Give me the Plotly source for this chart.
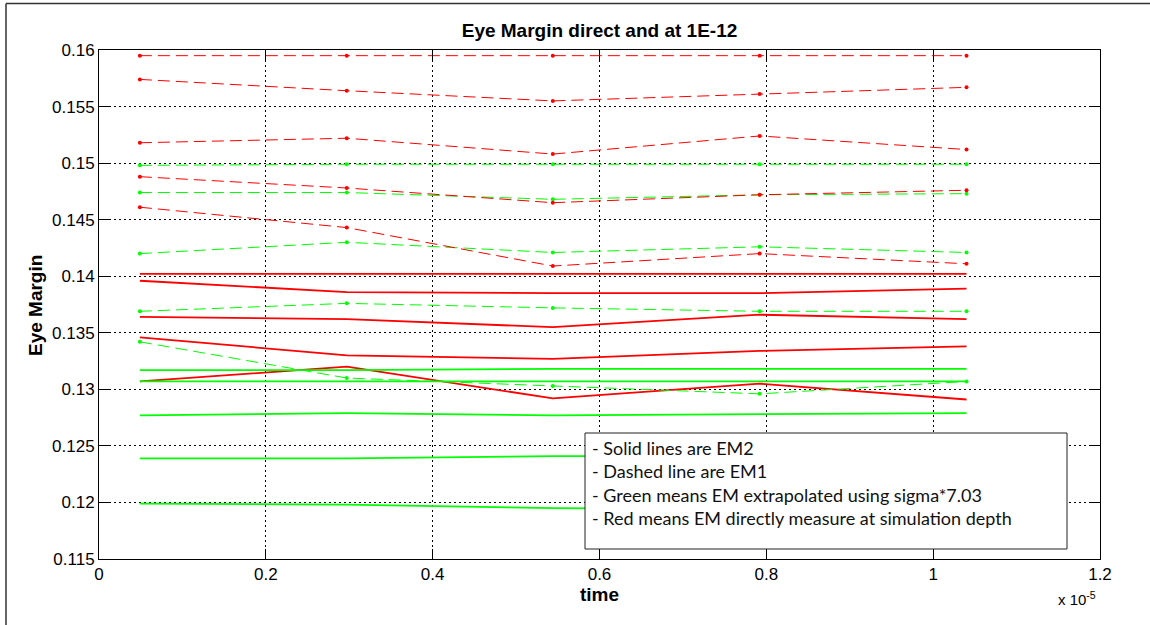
import plotly.graph_objects as go

# Sample times (seconds) and eye-margin curves
time = [0.049e-5, 0.297e-5, 0.544e-5, 0.792e-5, 1.040e-5]

# EM1 (dashed) measured directly at simulation depth
em1_direct_a = [0.1595, 0.1595, 0.1595, 0.1595, 0.1595]
em1_direct_b = [0.1574, 0.1564, 0.1555, 0.1561, 0.1567]
em1_direct_c = [0.1518, 0.1522, 0.1508, 0.1524, 0.1512]
em1_direct_d = [0.1488, 0.1478, 0.1465, 0.1472, 0.1476]
em1_direct_e = [0.1461, 0.1443, 0.1409, 0.1420, 0.1411]

# EM1 (dashed) extrapolated using sigma*7.03
em1_extrap_a = [0.1498, 0.1499, 0.1499, 0.1499, 0.1499]
em1_extrap_b = [0.1474, 0.1474, 0.1468, 0.1472, 0.1473]
em1_extrap_c = [0.1420, 0.1430, 0.1421, 0.1426, 0.1421]
em1_extrap_d = [0.1369, 0.1376, 0.1372, 0.1369, 0.1369]
em1_extrap_e = [0.1342, 0.1310, 0.1303, 0.1296, 0.1307]

# EM2 (solid) measured directly
em2_direct_a = [0.1402, 0.1402, 0.1402, 0.1402, 0.1402]
em2_direct_b = [0.1396, 0.1386, 0.1385, 0.1385, 0.1389]
em2_direct_c = [0.1364, 0.1362, 0.1355, 0.1366, 0.1362]
em2_direct_d = [0.1346, 0.1330, 0.1327, 0.1334, 0.1338]
em2_direct_e = [0.1307, 0.1320, 0.1292, 0.1305, 0.1291]

# EM2 (solid) extrapolated
em2_extrap_a = [0.1317, 0.1317, 0.1318, 0.1318, 0.1318]
em2_extrap_b = [0.1307, 0.1307, 0.1307, 0.1307, 0.1307]
em2_extrap_c = [0.1277, 0.1279, 0.1277, 0.1278, 0.1279]
em2_extrap_d = [0.1239, 0.1239, 0.1241, 0.1241, 0.1241]
em2_extrap_e = [0.1199, 0.1198, 0.1195, 0.1194, 0.1194]

x_ticks = [0, 0.2e-5, 0.4e-5, 0.6e-5, 0.8e-5, 1.0e-5, 1.2e-5]
x_tick_labels = ["0", "0.2", "0.4", "0.6", "0.8", "1", "1.2"]
y_ticks = [0.115, 0.12, 0.125, 0.13, 0.135, 0.14, 0.145, 0.15, 0.155, 0.16]
y_tick_labels = ["0.115", "0.12", "0.125", "0.13", "0.135", "0.14", "0.145", "0.15", "0.155", "0.16"]

notes = [
    "- Solid lines are EM2",
    "- Dashed line are EM1",
    "- Green means EM extrapolated using sigma*7.03",
    "- Red means EM directly measure at simulation depth",
]

RED = "#ff0000"
GREEN = "#00ff00"

W, H = 1150, 625
L, R, T, B = 99, 50, 50, 66
PW, PH = W - L - R, H - T - B


def px_x(px):
    return (px - L) / PW


def px_y(py):
    return (H - B - py) / PH


fig = go.Figure()

solid = [(em2_direct_a, RED), (em2_direct_b, RED), (em2_direct_c, RED),
         (em2_direct_d, RED), (em2_direct_e, RED),
         (em2_extrap_a, GREEN), (em2_extrap_b, GREEN), (em2_extrap_c, GREEN),
         (em2_extrap_d, GREEN), (em2_extrap_e, GREEN)]
dashed = [(em1_extrap_a, GREEN), (em1_extrap_b, GREEN), (em1_extrap_c, GREEN),
          (em1_extrap_d, GREEN), (em1_extrap_e, GREEN),
          (em1_direct_a, RED), (em1_direct_b, RED), (em1_direct_c, RED),
          (em1_direct_d, RED), (em1_direct_e, RED)]

for ys, c in solid:
    fig.add_trace(go.Scatter(x=time, y=ys, mode="lines",
                             line=dict(color=c, width=1.8), showlegend=False))
for ys, c in dashed:
    fig.add_trace(go.Scatter(x=time, y=ys, mode="lines+markers",
                             line=dict(color=c, width=1, dash="12px,6px"),
                             marker=dict(color=c, size=4),
                             showlegend=False))

axis_common = dict(
    showline=True, linecolor="black", linewidth=1, mirror="ticks",
    ticks="inside", ticklen=10, tickcolor="black", tickwidth=1,
    showgrid=True, gridcolor="black", gridwidth=1, griddash="2px,3px",
    zeroline=False,
    tickfont=dict(family="Liberation Sans, Arial", size=17, color="black"),
)

fig.update_layout(
    width=W, height=H,
    margin=dict(l=L, r=R, t=T, b=B),
    template="none",
    paper_bgcolor="white", plot_bgcolor="white",
    title=dict(text="<b>Eye Margin direct and at 1E-12</b>",
               x=0.5, xref="paper", xanchor="center",
               y=1 - 30 / H, yref="container", yanchor="middle",
               font=dict(family="Liberation Sans, Arial", size=19, color="black")),
    xaxis=dict(range=[0, 1.2e-5], tickvals=x_ticks, ticktext=x_tick_labels,
               **axis_common),
    yaxis=dict(range=[0.115, 0.16], tickvals=y_ticks, ticktext=y_tick_labels,
               **axis_common),
)

ann_font = dict(family="Liberation Sans, Arial", size=19, color="black")
fig.add_annotation(text="<b>time</b>", xref="paper", yref="paper",
                   x=0.5, y=px_y(594), xanchor="center", yanchor="middle",
                   showarrow=False, font=ann_font)
fig.add_annotation(text="<b>Eye Margin</b>", xref="paper", yref="paper",
                   x=px_x(35), y=px_y(306), xanchor="center", yanchor="middle",
                   textangle=-90, showarrow=False, font=ann_font)
fig.add_annotation(text="x 10<sup>-5</sup>", xref="paper", yref="paper",
                   x=px_x(1056), y=px_y(598), xanchor="left", yanchor="middle",
                   showarrow=False,
                   font=dict(family="Liberation Sans, Arial", size=15, color="black"))

# Outer figure frame
fig.add_shape(type="line", xref="paper", yref="paper",
              x0=px_x(6), x1=px_x(1160), y0=px_y(3.5), y1=px_y(3.5),
              line=dict(color="#333333", width=1.5))
fig.add_shape(type="line", xref="paper", yref="paper",
              x0=px_x(6), x1=px_x(6), y0=px_y(3.5), y1=px_y(640),
              line=dict(color="#333333", width=1.5))

# Note box
fig.add_shape(type="rect", xref="paper", yref="paper",
              x0=px_x(585), x1=px_x(1067), y0=px_y(549), y1=px_y(433),
              line=dict(color="#222222", width=1), fillcolor="white",
              layer="above")
for i, line in enumerate(notes):
    fig.add_annotation(text=line, xref="paper", yref="paper",
                       x=px_x(590), y=px_y(448 + 23.3 * i),
                       xanchor="left", yanchor="middle", showarrow=False,
                       font=dict(family="Lato, Open Sans", size=18,
                                 color="#111111"))

fig.write_html("out.html")
